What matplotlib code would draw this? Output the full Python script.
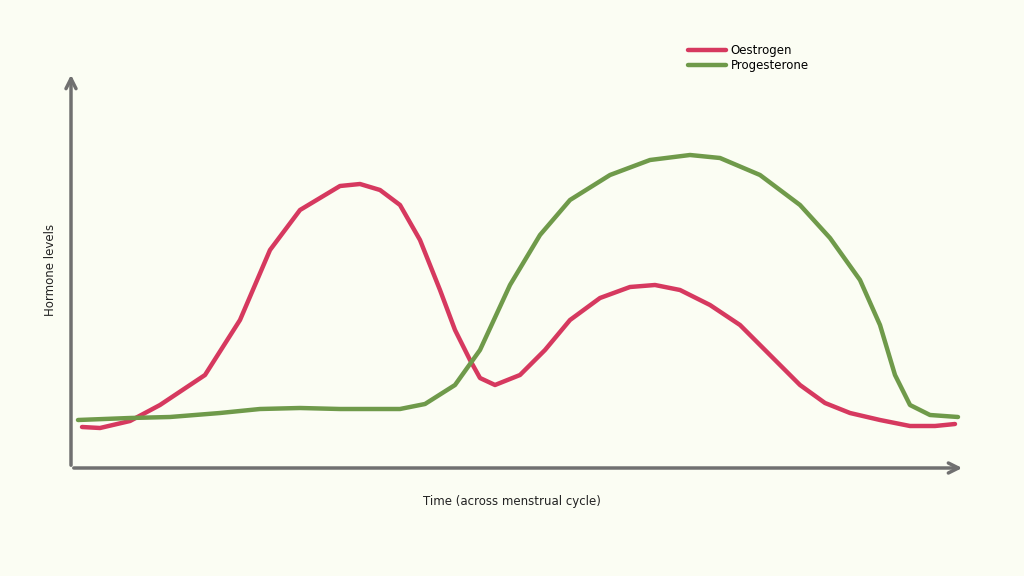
import matplotlib.pyplot as plt
import numpy as np

# values (time units, arbitrary hormone level units)
oes_t = [11, 29, 59, 89, 134, 169, 199, 229, 269, 289, 309, 329, 349, 369, 384, 399, 409, 424,
         449, 474, 499, 529, 559, 584, 609, 639, 669, 699, 729, 754, 779, 809, 839, 864, 884]
oes_y = [41, 40, 47, 63, 93, 148, 218, 258, 282, 284, 278, 263, 228, 178, 138, 108, 90, 83,
         93, 118, 148, 170, 181, 183, 178, 163, 143, 113, 83, 65, 55, 48, 42, 42, 44]
pro_t = [7, 59, 99, 149, 189, 229, 269, 329, 354, 384, 409, 439, 469, 499, 539, 579, 619, 649,
         689, 729, 759, 789, 809, 824, 839, 859, 887]
pro_y = [48, 50, 51, 55, 59, 60, 59, 59, 64, 83, 118, 183, 233, 268, 293, 308, 313, 310,
         293, 263, 230, 188, 143, 93, 63, 53, 51]

bg = '#fbfdf3'
red = '#d6395f'
green = '#6f9a4a'
axis_col = '#707070'

fig = plt.figure(figsize=(10.24, 5.76), dpi=100, facecolor=bg)
ax = fig.add_axes([71 / 1024, 108 / 576, 894 / 1024, 396 / 576])
ax.set_facecolor(bg)
ax.set_xlim(0, 894)
ax.set_ylim(0, 396)
for s in ax.spines.values():
    s.set_visible(False)
ax.set_xticks([])
ax.set_yticks([])

# arrows for axes
ax.annotate('', xy=(894, 0), xytext=(0, 0), annotation_clip=False,
            arrowprops=dict(arrowstyle='->', color=axis_col, lw=2.5, mutation_scale=18))
ax.annotate('', xy=(0, 396), xytext=(0, 0), annotation_clip=False,
            arrowprops=dict(arrowstyle='->', color=axis_col, lw=2.5, mutation_scale=18))

ax.plot(oes_t, oes_y, color=red, lw=3.2, solid_capstyle='round', solid_joinstyle='round', label='Oestrogen')
ax.plot(pro_t, pro_y, color=green, lw=3.2, solid_capstyle='round', solid_joinstyle='round', label='Progesterone')

leg = fig.legend(loc='upper left', bbox_to_anchor=(682 / 1024, 1 - 38 / 576), frameon=False,
                 fontsize=8.5, handlelength=3.2, handletextpad=0.4, labelspacing=0.2,
                 borderpad=0)

fig.text(50 / 1024, 1 - 270 / 576, 'Hormone levels', rotation=90, ha='center', va='center',
         fontsize=8.5, color='#222222')
fig.text(512 / 1024, 1 - 501 / 576, 'Time (across menstrual cycle)', ha='center', va='center',
         fontsize=8.5, color='#222222')

fig.savefig('out.png', dpi=100, facecolor=bg)
